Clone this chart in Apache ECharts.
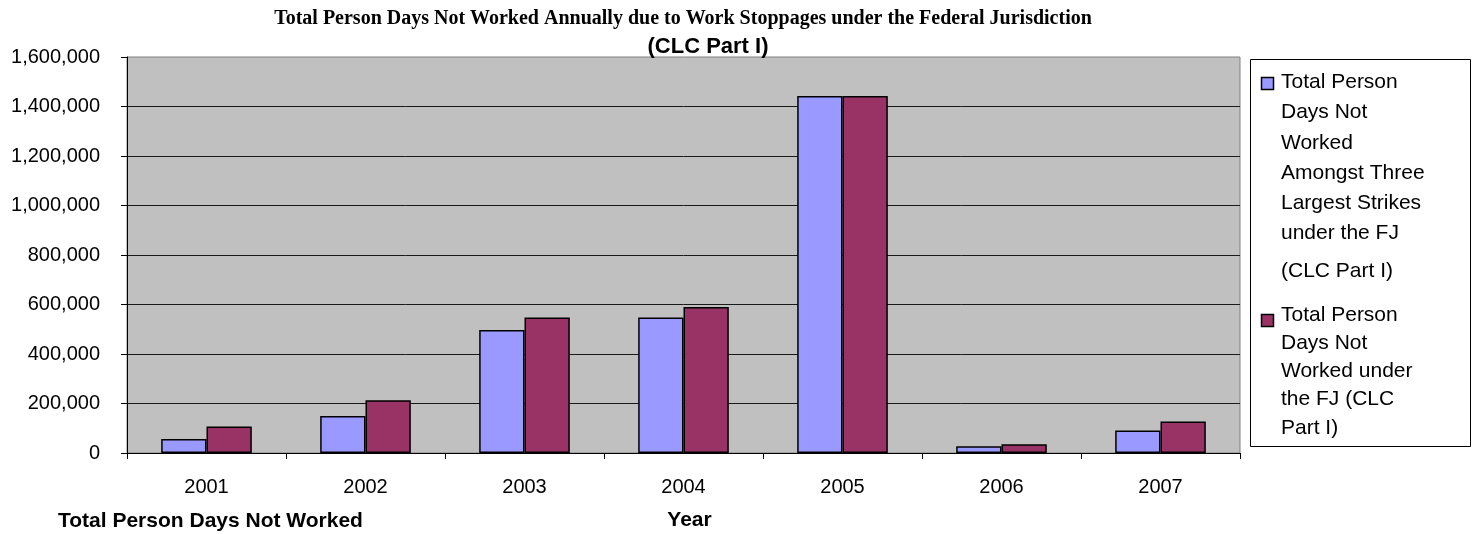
<!DOCTYPE html>
<html>
<head>
<meta charset="utf-8">
<title>Total Person Days Not Worked</title>
<script src="https://cdn.jsdelivr.net/npm/echarts@6/dist/echarts.min.js"></script>
<style>
  html, body { margin: 0; padding: 0; background: #ffffff; }
  #chart { width: 1475px; height: 534px; }
</style>
</head>
<body>
<div id="chart"></div>
<script>
// Years on the category axis
const years = ['2001', '2002', '2003', '2004', '2005', '2006', '2007'];

// Person days not worked amongst the three largest strikes (FJ, CLC Part I)
const threeLargest = [57000, 150000, 497000, 547000, 1442000, 27000, 91000];

// Total person days not worked under the FJ (CLC Part I)
const totalFJ = [107000, 213000, 547000, 590000, 1442000, 35000, 127000];

// Series names, split into the lines shown in the legend box
const seriesNames = [
  'Total Person Days Not Worked Amongst Three Largest Strikes under the FJ (CLC Part I)',
  'Total Person Days Not Worked under the FJ (CLC Part I)'
];
const legendLines1 = ['Total Person', 'Days Not', 'Worked', 'Amongst Three', 'Largest Strikes', 'under the FJ'];
const legendLast1 = '(CLC Part I)';
const legendLines2 = ['Total Person', 'Days Not', 'Worked under', 'the FJ (CLC', 'Part I)'];

// Value axis range
const yMin = 0, yMax = 1600000, yStep = 200000;

const titleLine1 = 'Total Person Days Not Worked Annually due to Work Stoppages under the Federal Jurisdiction';
const titleLine2 = '(CLC Part I)';
const yTitle = 'Total Person Days Not Worked';
const xTitle = 'Year';

const SANS = '"Liberation Sans", Arial, sans-serif';
const SERIF = '"Liberation Serif", "Times New Roman", serif';
const BLUE = '#9999FF';
const PLUM = '#993366';

const chart = echarts.init(document.getElementById('chart'), null, { renderer: 'canvas' });

const fmt = v => v.toString().replace(/\B(?=(\d{3})+(?!\d))/g, ',');

const option = {
  animation: false,
  backgroundColor: '#ffffff',
  grid: {
    left: 127, right: 235, top: 57, bottom: 81,
    outerBoundsMode: 'none',
    containLabel: false,
    show: true,
    backgroundColor: '#C0C0C0',
    borderColor: '#808080',
    borderWidth: 1
  },
  legend: { show: false },
  xAxis: {
    type: 'category',
    data: years,
    boundaryGap: true,
    name: xTitle,
    nameLocation: 'middle',
    nameGap: 57,
    nameTextStyle: { fontFamily: SANS, fontSize: 21, fontWeight: 'bold', color: '#000',
                     verticalAlign: 'top', padding: [0, 0, 0, 12] },
    axisLine: { lineStyle: { color: '#000', width: 1 } },
    axisTick: { show: true, length: 6, lineStyle: { color: '#000' } },
    axisLabel: { fontFamily: SANS, fontSize: 20, color: '#000', margin: 24 },
    splitLine: { show: false }
  },
  yAxis: {
    type: 'value',
    min: yMin, max: yMax, interval: yStep,
    axisLine: { show: true, lineStyle: { color: '#000', width: 1 } },
    axisTick: { show: true, length: 6, lineStyle: { color: '#000' } },
    axisLabel: { fontFamily: SANS, fontSize: 20, color: '#000', margin: 27, formatter: fmt },
    splitLine: { show: true, showMaxLine: false, lineStyle: { color: '#1a1a1a', width: 1 } }
  },
  series: [
    {
      name: seriesNames[0],
      type: 'bar',
      data: threeLargest,
      barGap: '0%',
      barCategoryGap: '43%',
      itemStyle: { color: BLUE, borderColor: '#000', borderWidth: 1.5 }
    },
    {
      name: seriesNames[1],
      type: 'bar',
      data: totalFJ,
      barGap: '0%',
      barCategoryGap: '43%',
      itemStyle: { color: PLUM, borderColor: '#000', borderWidth: 1.5 }
    }
  ],
  graphic: [
    // Title
    {
      type: 'text', x: 683, y: 19,
      style: { text: titleLine1, fontFamily: SERIF, fontWeight: 'bold', fontSize: 20,
               fill: '#000', align: 'center', verticalAlign: 'middle' }
    },
    {
      type: 'text', x: 708, y: 47,
      style: { text: titleLine2, fontFamily: SANS, fontWeight: 'bold', fontSize: 22,
               fill: '#000', align: 'center', verticalAlign: 'middle' }
    },
    // Value-axis title placed under the axis
    {
      type: 'text', x: 58, y: 521,
      style: { text: yTitle, fontFamily: SANS, fontWeight: 'bold', fontSize: 21,
               fill: '#000', align: 'left', verticalAlign: 'middle' }
    },
    // Legend box
    {
      type: 'rect', shape: { x: 1250.5, y: 59.5, width: 220, height: 387 },
      style: { fill: '#ffffff', stroke: '#000', lineWidth: 1 }
    },
    {
      type: 'rect', shape: { x: 1261.5, y: 77.5, width: 12, height: 12 },
      style: { fill: BLUE, stroke: '#000', lineWidth: 1.5 }
    },
    {
      type: 'text', x: 1281, y: 67,
      style: { text: legendLines1.join('\n'), fontFamily: SANS, fontSize: 21, lineHeight: 30.3,
               fill: '#000', align: 'left', verticalAlign: 'top' }
    },
    {
      type: 'text', x: 1281, y: 271,
      style: { text: legendLast1, fontFamily: SANS, fontSize: 21,
               fill: '#000', align: 'left', verticalAlign: 'middle' }
    },
    {
      type: 'rect', shape: { x: 1261.5, y: 314.5, width: 12, height: 12 },
      style: { fill: PLUM, stroke: '#000', lineWidth: 1.5 }
    },
    {
      type: 'text', x: 1281, y: 301,
      style: { text: legendLines2.join('\n'), fontFamily: SANS, fontSize: 21, lineHeight: 28.2,
               fill: '#000', align: 'left', verticalAlign: 'top' }
    }
  ]
};

chart.setOption(option);
</script>
</body>
</html>
